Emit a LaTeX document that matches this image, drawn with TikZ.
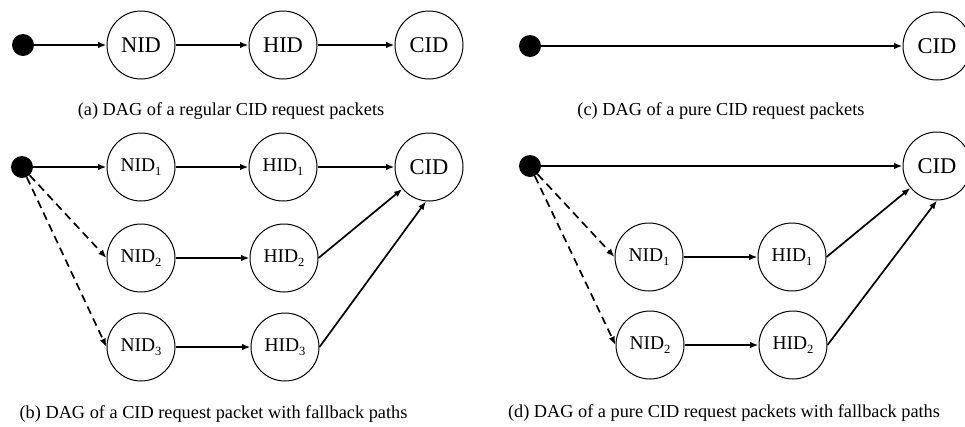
\documentclass[tikz,border=0pt]{standalone}
\usepackage{fontspec}
\setmainfont{Liberation Serif}
\usetikzlibrary{arrows.meta}
\newcommand{\lowsub}[1]{\raisebox{-4pt}{\fontsize{12.5}{13}\selectfont #1}}
\begin{document}
\begin{tikzpicture}[x=1pt,y=-1pt,
  state/.style={circle,draw,line width=1pt,minimum size=68pt,inner sep=0pt,font=\fontsize{22.5}{24}\selectfont},
  sstate/.style={state,font=\fontsize{19.5}{22}\selectfont},
  src/.style={circle,fill=black,minimum size=22pt,inner sep=0pt},
  edge/.style={line width=1.7pt,-{Latex[length=8.5pt,width=6.5pt]}},
  fb/.style={edge,dash pattern=on 8pt off 5pt},
  captxt/.style={font=\fontsize{18.3}{20}\selectfont,anchor=base,inner sep=0pt}]
\useasboundingbox (0,0) rectangle (965,426);
% (a)
\node[src] (dotA) at (23,45) {};
\node[state] (nidA) at (141,45) {NID};
\node[state] (hidA) at (283,45) {HID};
\node[state] (cidA) at (429,45) {CID};
\draw[edge] (dotA) -- (nidA);
\draw[edge] (nidA) -- (hidA);
\draw[edge] (hidA) -- (cidA);
\node[captxt] (capA) at (231,115) {(a) DAG of a regular CID request packets};
% (b)
\node[src] (dotB) at (22,167) {};
\node[sstate] (nidB1) at (141,167) {NID\lowsub{1}};
\node[sstate] (hidB1) at (283,167) {HID\lowsub{1}};
\node[state] (cidB) at (429,167) {CID};
\node[sstate] (nidB2) at (141,258) {NID\lowsub{2}};
\node[sstate] (hidB2) at (284,258) {HID\lowsub{2}};
\node[sstate] (nidB3) at (141,347) {NID\lowsub{3}};
\node[sstate] (hidB3) at (285,347) {HID\lowsub{3}};
\draw[edge] (dotB) -- (nidB1);
\draw[edge] (nidB1) -- (hidB1);
\draw[edge] (hidB1) -- (cidB);
\draw[fb] (dotB) -- (nidB2.west);
\draw[fb] (dotB) -- (nidB3.west);
\draw[edge] (nidB2) -- (hidB2);
\draw[edge] (nidB3) -- (hidB3);
\draw[edge] (hidB2.east) -- (cidB);
\draw[edge] (hidB3.east) -- (cidB.265);
\node[captxt] (capB) at (213.5,418) {(b) DAG of a CID request packet with fallback paths};
% (c)
\node[src] (dotC) at (530,46) {};
\node[state] (cidC) at (937,46) {CID};
\draw[edge] (dotC) -- (cidC);
\node[captxt] (capC) at (721,115) {(c) DAG of a pure CID request packets};
% (d)
\node[src] (dotD) at (530,166) {};
\node[state] (cidD) at (937,166) {CID};
\node[sstate] (nidD1) at (649,257) {NID\lowsub{1}};
\node[sstate] (hidD1) at (792,257) {HID\lowsub{1}};
\node[sstate] (nidD2) at (650,345) {NID\lowsub{2}};
\node[sstate] (hidD2) at (793,345) {HID\lowsub{2}};
\draw[edge] (dotD) -- (cidD);
\draw[fb] (dotD) -- (nidD1.west);
\draw[fb] (dotD) -- (nidD2.west);
\draw[edge] (nidD1) -- (hidD1);
\draw[edge] (nidD2) -- (hidD2);
\draw[edge] (hidD1.east) -- (cidD);
\draw[edge] (hidD2.east) -- (cidD.270);
\node[captxt] (capD) at (724,417) {(d) DAG of a pure CID request packets with fallback paths};
\end{tikzpicture}
\end{document}
